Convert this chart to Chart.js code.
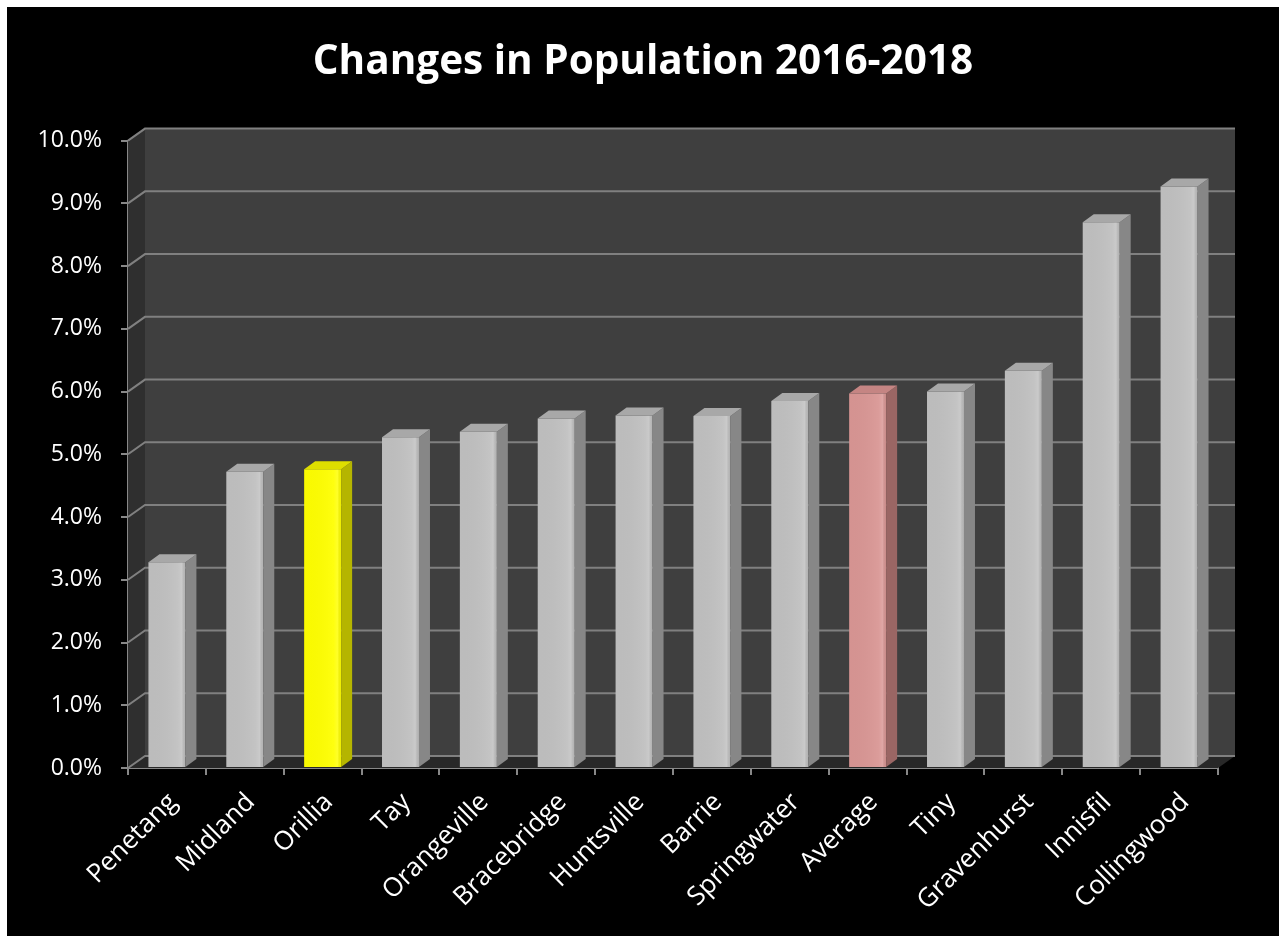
<!DOCTYPE html>
<html>
<head>
<meta charset="utf-8">
<title>Changes in Population 2016-2018</title>
<script src="https://cdn.jsdelivr.net/npm/chart.js@4"></script>
<style>
    html, body { margin: 0; padding: 0; background: #ffffff; overflow: hidden; }
    #wrap { position: absolute; left: 7px; top: 7px; width: 1272px; height: 929px; background: #000000; }
</style>
</head>
<body>
<div id="wrap"><canvas id="pop-chart" width="1272" height="929"></canvas></div>
<script>
const towns = ['Penetang', 'Midland', 'Orillia', 'Tay', 'Orangeville', 'Bracebridge', 'Huntsville',
    'Barrie', 'Springwater', 'Average', 'Tiny', 'Gravenhurst', 'Innisfil', 'Collingwood'];
const growth = [3.28, 4.72, 4.76, 5.27, 5.36, 5.57, 5.62, 5.61, 5.85, 5.97, 6.0, 6.33, 8.70, 9.27];
const yTicks = [0, 1, 2, 3, 4, 5, 6, 7, 8, 9, 10];

// depth of the walls and of the bars (3d look)
const wallDX = 17, wallDY = -12;
const barDX = 11, barDY = -8;

function getColor(town, face) {
    if (town === 'Orillia') {
        return { front: '#ffff00', side: '#b5b500', top: '#dede00' }[face];
    }
    if (town === 'Average') {
        return { front: '#d99694', side: '#9a6664', top: '#c58583' }[face];
    }
    return { front: '#c0c0c0', side: '#878787', top: '#a8a8a8' }[face];
}

function poly(ctx, pts, fill) {
    ctx.beginPath();
    ctx.moveTo(pts[0][0], pts[0][1]);
    for (let i = 1; i < pts.length; i++) ctx.lineTo(pts[i][0], pts[i][1]);
    ctx.closePath();
    ctx.fillStyle = fill;
    ctx.fill();
}

const walls3d = {
    id: 'walls3d',
    beforeDatasetsDraw(chart) {
        const { ctx, chartArea: a, scales: { y } } = chart;
        ctx.save();
        poly(ctx, [[a.left, a.top], [a.left + wallDX, a.top + wallDY], [a.left + wallDX, a.bottom + wallDY], [a.left, a.bottom]], '#2f2f2f');
        poly(ctx, [[a.left + wallDX, a.top + wallDY], [a.right + wallDX, a.top + wallDY], [a.right + wallDX, a.bottom + wallDY], [a.left + wallDX, a.bottom + wallDY]], '#3f3f3f');
        poly(ctx, [[a.left, a.bottom], [a.left + wallDX, a.bottom + wallDY], [a.right + wallDX, a.bottom + wallDY], [a.right, a.bottom]], '#282828');

        ctx.strokeStyle = '#808080';
        ctx.lineWidth = 2;
        y.ticks.forEach(t => {
            const py = y.getPixelForValue(t.value);
            ctx.beginPath();
            ctx.moveTo(a.left, py);
            ctx.lineTo(a.left + wallDX, py + wallDY);
            ctx.lineTo(a.right + wallDX, py + wallDY);
            ctx.stroke();
        });
        ctx.restore();
    },
    afterDatasetsDraw(chart) {
        const ctx = chart.ctx;
        const meta = chart.getDatasetMeta(0);
        ctx.save();
        meta.data.forEach((bar, i) => {
            const { x, y, base, width } = bar.getProps(['x', 'y', 'base', 'width'], true);
            const l = x - width / 2, r = x + width / 2;
            // shading on the front face
            const g = ctx.createLinearGradient(l, 0, r, 0);
            g.addColorStop(0, 'rgba(0,0,0,0.02)');
            g.addColorStop(0.8, 'rgba(255,255,255,0.06)');
            g.addColorStop(0.9, 'rgba(255,255,255,0.16)');
            g.addColorStop(1, 'rgba(0,0,0,0.06)');
            ctx.fillStyle = g;
            ctx.fillRect(l, y, width, base - y);
            poly(ctx, [[r, y], [r + barDX, y + barDY], [r + barDX, base + barDY], [r, base]], getColor(towns[i], 'side'));
            poly(ctx, [[l, y], [l + barDX, y + barDY], [r + barDX, y + barDY], [r, y]], getColor(towns[i], 'top'));
        });
        ctx.restore();
    }
};

new Chart(document.getElementById('pop-chart').getContext('2d'), {
    type: 'bar',
    data: {
        labels: towns,
        datasets: [{
            label: 'Change in population',
            data: growth,
            backgroundColor: towns.map(t => getColor(t, 'front')),
            borderWidth: 0,
            barPercentage: 0.475,
            categoryPercentage: 1
        }]
    },
    options: {
        responsive: false,
        animation: false,
        layout: { padding: 0 },
        plugins: {
            legend: { display: false },
            tooltip: { enabled: false },
            title: {
                display: true,
                text: 'Changes in Population 2016-2018',
                color: '#ffffff',
                font: { family: 'Open Sans', size: 40.5, weight: 'bold' },
                padding: { top: 31, bottom: 54 }
            }
        },
        scales: {
            x: {
                offset: true,
                grid: { display: true, drawOnChartArea: false, offset: true, tickLength: 7, color: '#888888', lineWidth: 2 },
                border: { display: true, color: '#888888', width: 2 },
                ticks: {
                    color: '#ffffff',
                    font: { family: 'Open Sans', size: 26 },
                    minRotation: 45,
                    maxRotation: 45,
                    autoSkip: false,
                    padding: 12,
                    labelOffset: 6
                },
                afterFit(scale) { scale.height = 168; }
            },
            y: {
                min: 0,
                max: 10,
                afterBuildTicks(scale) { scale.ticks = yTicks.map(v => ({ value: v })); },
                grid: { display: true, drawOnChartArea: false, tickLength: 7, color: '#888888', lineWidth: 2 },
                border: { display: true, color: '#888888', width: 2 },
                ticks: {
                    color: '#ffffff',
                    font: { family: 'Open Sans', size: 23 },
                    padding: 19,
                    callback: v => v.toFixed(1) + '%'
                },
                afterFit(scale) { scale.width = 121; }
            },
            // empty right-hand axis, only keeps room for the 3d back wall
            yRight: {
                position: 'right',
                display: true,
                grid: { display: false },
                border: { display: false },
                ticks: { display: false },
                afterFit(scale) { scale.width = 61; }
            }
        }
    },
    plugins: [walls3d]
});
</script>
</body>
</html>
